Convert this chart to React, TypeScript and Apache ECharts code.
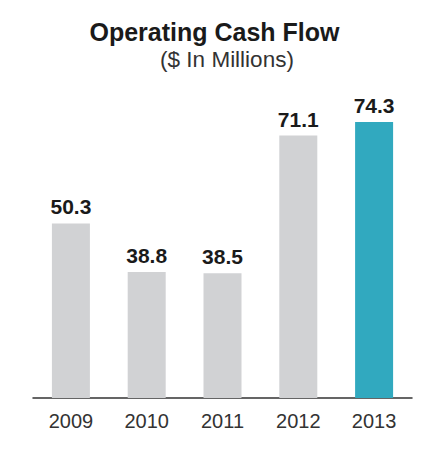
import React, { useEffect, useRef } from "react";
import * as echarts from "echarts";

const categories = ["2009", "2010", "2011", "2012", "2013"];
const values = [50.3, 38.8, 38.5, 71.1, 74.3];
const highlightIndex = 4;

export default function App() {
  const ref = useRef<HTMLDivElement>(null);
  useEffect(() => {
    document.body.style.margin = "0";
    if (!ref.current) return;
    const chart = echarts.init(ref.current, undefined, { renderer: "svg" });
    chart.setOption({
      animation: false,
      backgroundColor: "#ffffff",
      title: [
        {
          text: "Operating Cash Flow",
          left: "center",
          top: 14,
          textStyle: {
            fontFamily: "Liberation Sans, Arial, sans-serif",
            fontSize: 25,
            fontWeight: "bold",
            color: "#1a1a1a",
          },
        },
        {
          text: "($ In Millions)",
          left: 222,
          textAlign: "center",
          top: 43,
          textStyle: {
            fontFamily: "Liberation Sans, Arial, sans-serif",
            fontSize: 22.5,
            fontWeight: "normal",
            color: "#333333",
          },
        },
      ],
      grid: { left: 33, right: 17, top: 98, bottom: 63 },
      xAxis: {
        type: "category",
        data: categories,
        axisLine: { lineStyle: { color: "#333333", width: 1.5 } },
        axisTick: { show: false },
        axisLabel: {
          fontFamily: "Liberation Sans, Arial, sans-serif",
          fontSize: 20,
          color: "#333333",
          margin: 13,
        },
      },
      yAxis: {
        type: "value",
        min: 9,
        max: 80,
        show: false,
        splitLine: { show: false },
      },
      series: [
        {
          type: "bar",
          barWidth: 38,
          data: values.map((v, i) => ({
            value: v,
            itemStyle: { color: i === highlightIndex ? "#31a9bf" : "#d1d2d4" },
          })),
          label: {
            show: true,
            position: "top",
            distance: 6,
            fontFamily: "Liberation Sans, Arial, sans-serif",
            fontSize: 21,
            fontWeight: "bold",
            color: "#1a1a1a",
            formatter: (p: any) => p.value.toFixed(1),
          },
        },
      ],
    });
    return () => chart.dispose();
  }, []);
  return <div ref={ref} style={{ width: 429, height: 461 }} />;
}
